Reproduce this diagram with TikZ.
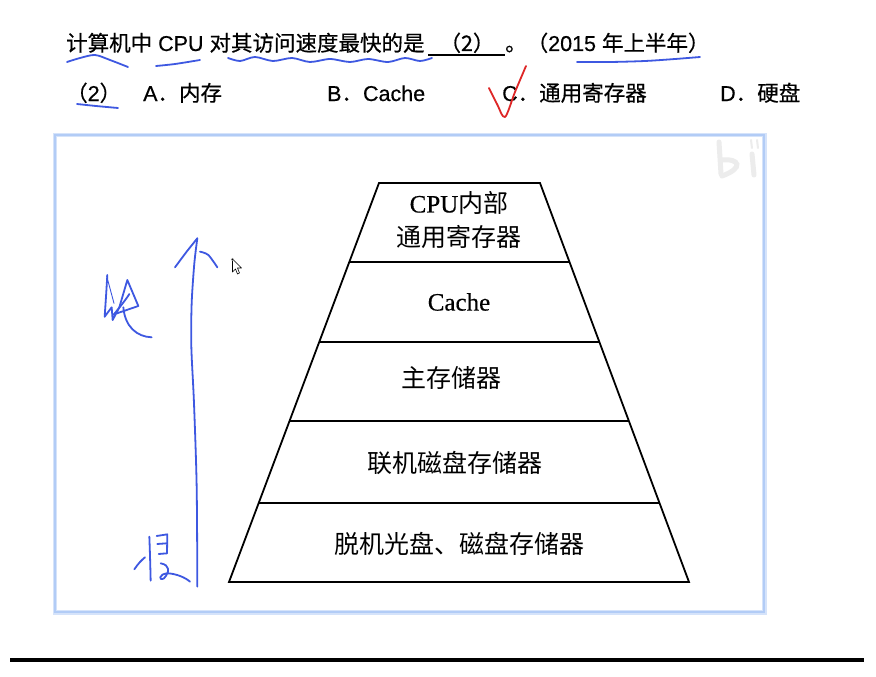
\documentclass[tikz,border=0pt]{standalone}
\usepackage{fontspec}
\setmainfont{Liberation Sans}
\newfontfamily\cjk{Noto Sans CJK SC}
\newfontfamily\cjkq[FakeBold=0.5]{Noto Sans CJK SC}
\newfontfamily\latq[FakeBold=0.4]{Liberation Sans}
\newfontfamily\tms[FakeBold=0.4]{Liberation Serif}
\usetikzlibrary{calc}
\definecolor{ink}{RGB}{62,88,225}
\definecolor{tick}{RGB}{222,38,38}
\definecolor{framec}{RGB}{178,204,246}
\definecolor{wm}{RGB}{236,236,236}
\begin{document}
\begin{tikzpicture}[x=1pt,y=-1pt,
  qtext/.style={anchor=base west,inner sep=0pt,font=\fontsize{21.5}{26}\selectfont\latq},
  layer/.style={anchor=center,inner sep=0pt,align=center,font=\fontsize{25}{34}\selectfont},
  pen/.style={draw=ink,line width=1.8pt,line cap=round,line join=round},
  band/.style={draw=black,line width=1.8pt}]
\useasboundingbox (0,0) rectangle (876,677);
\fill[white] (0,0) rectangle (876,677);

% question line
\node[qtext] (q1) at (66,51) {{\cjkq 计算机中} CPU {\cjkq 对其访问速度最快的是}};
\node[qtext,anchor=base] (blank) at (467,51) {\cjkq （2）};
\coordinate (u1) at (428,55);
\coordinate (u2) at (505,55);
\draw[line width=1.4pt] (u1) -- (u2);
\node[qtext] (q2) at (505,51) {{\cjkq 。（}2015 {\cjkq 年上半年）}};

% answer options
\node[qtext] (o0) at (66,101) {{\cjkq （}2{\cjkq ）}};
\node[qtext] (oa) at (143,101) {A{\cjkq ．内存}};
\node[qtext] (ob) at (327,101) {B{\cjkq ．}Cache};
\node[qtext] (oc) at (502,101) {C{\cjkq ．通用寄存器}};
\node[qtext] (od) at (720,101) {D{\cjkq ．硬盘}};

% handwritten marks on the question
\draw[pen] plot[smooth] coordinates {(67,62) (80,58) (95,55) (110,60) (128,67)};
\draw[pen] plot[smooth] coordinates {(156,66) (175,64) (200,60)};
\draw[pen] plot[smooth] coordinates {(228,58) (240,61) (255,57) (273,61) (292,58) (310,62) (330,59) (350,62) (368,59) (388,62) (405,58) (420,61) (432,58)};
\draw[pen] plot[smooth] coordinates {(577,62) (610,62) (645,61) (675,59) (700,57)};
\draw[pen] plot[smooth] coordinates {(77,104) (96,106) (118,108)};
\draw[draw=tick,line width=1.8pt,line cap=round,line join=round]
  plot[smooth] coordinates {(489,88) (497,104) (505,117) (515,92) (526,66)};

% picture frame
\draw[framec!55,line width=5pt] (55,135) rectangle (764,612);
\draw[framec,line width=2pt] (55,135) rectangle (764,612);
\fill[white] (57,137) rectangle (762,610);

% faint watermark
\begin{scope}[wm,line width=5pt,line cap=round]
  \draw (719,142) -- (721,174);
  \draw (721,160) .. controls (740,158) and (744,168) .. (722,176);
  \draw (752,154) -- (754,175);
  \draw[line width=2pt] (751,140) -- (752,148);
  \draw[line width=2pt] (757,140) -- (758,148);
\end{scope}

% storage hierarchy
\coordinate (L0) at (379,183);   \coordinate (R0) at (540,183);
\coordinate (L1) at (349.3,262); \coordinate (R1) at (569.5,262);
\coordinate (L2) at (319.2,342); \coordinate (R2) at (599.4,342);
\coordinate (L3) at (289.5,421); \coordinate (R3) at (628.9,421);
\coordinate (L4) at (258.7,503); \coordinate (R4) at (659.5,503);
\coordinate (L5) at (229,582);   \coordinate (R5) at (689,582);
\draw[band,line join=miter] (L0) -- (R0) -- (R5) -- (L5) -- cycle;
\draw[band] (L1) -- (R1);
\draw[band] (L2) -- (R2);
\draw[band] (L3) -- (R3);
\draw[band] (L4) -- (R4);
\draw[band,line width=2.4pt] (L5) -- (R5);

\node[layer] (t1) at (459,220) {{\tms CPU}{\cjk 内部}\\{\cjk 通用寄存器}};
\node[layer] (t2) at (459,302) {\tms Cache};
\node[layer] (t3) at (451,378) {\cjk 主存储器};
\node[layer] (t4) at (455,463) {\cjk 联机磁盘存储器};
\node[layer] (t5) at (459,544) {\cjk 脱机光盘、磁盘存储器};

% handwritten speed arrow with 快 / 慢
\begin{scope}[shift={(90,220)},scale=1/3]
  \draw[pen] plot[smooth] coordinates {(322,1100) (320,800) (312,550) (304,380) (305,250) (313,130) (322,55)};
  \draw[pen] plot[smooth] coordinates {(255,142) (290,95) (322,55)};
  \draw[pen] plot[smooth] coordinates {(330,95) (355,105) (382,142)};
  % 快
  \draw[pen] plot[smooth] coordinates {(52,165) (48,230) (44,290)};
  \draw[pen,line width=0.9pt] (50,168) -- (72,250);
  \draw[pen] (44,290) -- (65,262) -- (68,300) -- (88,262) -- (112,180) -- (145,258) -- (75,282);
  \draw[pen] (70,285) .. controls (95,255) and (110,235) .. (118,222);
  \draw[pen] (100,262) .. controls (105,320) and (140,350) .. (185,352);
  % 慢
  \draw[pen] (178,950) .. controls (180,1000) and (181,1040) .. (182,1082);
  \draw[pen] (133,1048) .. controls (145,1030) and (155,1020) .. (165,1012);
  \draw[pen] (200,948) -- (232,943) -- (231,1000) -- (206,1002);
  \draw[pen] (202,972) -- (230,970);
  \draw[pen] (212,1030) .. controls (240,1035) and (240,1055) .. (222,1075)
             .. controls (205,1085) and (205,1060) .. (235,1060)
             .. controls (260,1062) and (285,1072) .. (300,1085);
\end{scope}

% mouse pointer
\draw[black,fill=white,line width=0.6pt,line join=round]
  (232.5,259) -- (232.5,272) -- (235.5,269) -- (237.5,274) -- (239.5,273) -- (237.5,268) -- (241.5,268) -- cycle;
\draw[gray,line width=0.5pt] (232.5,259.5) circle (1.2);

% rule at the foot
\draw[line width=4pt] (10,660) -- (864,660);
\end{tikzpicture}
\end{document}
